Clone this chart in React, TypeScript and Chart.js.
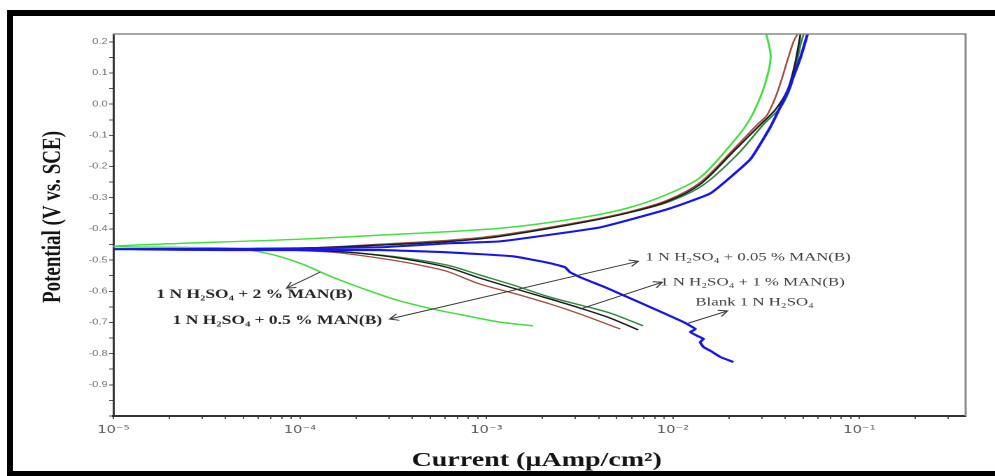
import React, { useEffect, useRef } from 'react';
import { Chart, registerables } from 'chart.js';

Chart.register(...registerables);

// ---------- axis ranges & tick labels ----------
const X_MIN = 1e-5;
const X_MAX = 0.371;
const Y_MIN = -1.0;
const Y_MAX = 0.225;

const xDecades = [1e-5, 1e-4, 1e-3, 1e-2, 1e-1];
const xDecadeLabels = ['10⁻⁵', '10⁻⁴', '10⁻³', '10⁻²', '10⁻¹'];
const xMinorMultipliers = [2, 3, 4, 5, 6, 7, 8, 9];

const yMajorTicks = [0.2, 0.1, 0.0, -0.1, -0.2, -0.3, -0.4, -0.5, -0.6, -0.7, -0.8, -0.9];
const yTickLabels = ['0.2', '0.1', '0.0', '-0.1', '-0.2', '-0.3', '-0.4', '-0.5', '-0.6', '-0.7', '-0.8', '-0.9'];
const yMinorTicks = [0.15, 0.05, -0.05, -0.15, -0.25, -0.35, -0.45, -0.55, -0.65, -0.75, -0.85, -0.95];

// ---------- series: current (µA/cm²) and potential (V vs SCE) ----------
// Blank 1 N H2SO4 (blue)
const blankI = [2.11e-2, 1.80e-2, 1.59e-2, 1.46e-2, 1.40e-2, 1.46e-2, 1.35e-2, 1.24e-2, 1.32e-2, 1.14e-2, 7.56e-3, 4.44e-3, 3.18e-3, 2.81e-3, 2.64e-3, 2.20e-3, 1.39e-3, 6.14e-4, 2.68e-4, 5.38e-5, 1.0e-5, 5.38e-5, 2.68e-4, 6.38e-4, 1.18e-3, 4.07e-3, 9.33e-3, 1.59e-2, 2.60e-2, 3.34e-2, 4.12e-2, 4.83e-2, 5.27e-2];
const blankE = [-0.827, -0.811, -0.791, -0.779, -0.763, -0.753, -0.743, -0.731, -0.721, -0.699, -0.651, -0.590, -0.555, -0.539, -0.523, -0.510, -0.488, -0.475, -0.468, -0.468, -0.465, -0.464, -0.459, -0.446, -0.440, -0.395, -0.337, -0.286, -0.177, -0.072, 0.040, 0.149, 0.225];

// 1 N H2SO4 + 0.05 % MAN(B) (black)
const man005I = [6.52e-3, 4.61e-3, 3.18e-3, 2.20e-3, 1.39e-3, 9.24e-4, 6.14e-4, 3.44e-4, 2.10e-4, 1.50e-4, 7.79e-5, 1.0e-5, 1.0e-4, 2.68e-4, 6.38e-4, 1.18e-3, 3.30e-3, 5.90e-3, 9.33e-3, 1.40e-2, 2.11e-2, 2.95e-2, 3.55e-2, 4.12e-2, 4.49e-2, 4.72e-2, 4.83e-2];
const man005E = [-0.724, -0.686, -0.654, -0.625, -0.590, -0.558, -0.523, -0.494, -0.478, -0.472, -0.468, -0.465, -0.462, -0.452, -0.440, -0.424, -0.379, -0.347, -0.312, -0.257, -0.152, -0.065, -0.017, 0.046, 0.123, 0.190, 0.225];

// 1 N H2SO4 + 0.5 % MAN(B) (brown)
const man05I = [5.22e-3, 3.18e-3, 2.20e-3, 1.39e-3, 9.24e-4, 6.14e-4, 4.40e-4, 3.44e-4, 2.29e-4, 1.50e-4, 7.79e-5, 1.0e-5, 1.0e-4, 2.68e-4, 6.38e-4, 1.18e-3, 3.30e-3, 5.90e-3, 9.33e-3, 1.40e-2, 2.11e-2, 2.84e-2, 3.21e-2, 3.64e-2, 4.12e-2, 4.43e-2, 4.66e-2];
const man05E = [-0.721, -0.673, -0.641, -0.606, -0.577, -0.536, -0.516, -0.504, -0.488, -0.475, -0.468, -0.465, -0.462, -0.449, -0.436, -0.420, -0.376, -0.344, -0.308, -0.251, -0.145, -0.065, -0.033, 0.040, 0.142, 0.200, 0.225];

// 1 N H2SO4 + 1 % MAN(B) (dark green)
const man1I = [6.93e-3, 4.61e-3, 3.18e-3, 2.20e-3, 1.39e-3, 9.24e-4, 6.14e-4, 3.44e-4, 2.10e-4, 1.50e-4, 7.79e-5, 1.0e-5, 1.0e-4, 2.68e-4, 6.38e-4, 1.18e-3, 3.30e-3, 5.90e-3, 9.33e-3, 1.44e-2, 2.22e-2, 3.06e-2, 3.77e-2, 4.27e-2, 4.60e-2, 4.83e-2, 5.02e-2];
const man1E = [-0.711, -0.670, -0.644, -0.619, -0.580, -0.548, -0.516, -0.491, -0.478, -0.472, -0.468, -0.465, -0.462, -0.452, -0.440, -0.424, -0.379, -0.347, -0.315, -0.261, -0.161, -0.065, -0.011, 0.053, 0.130, 0.190, 0.225];

// 1 N H2SO4 + 2 % MAN(B) (light green)
const man2I = [1.78e-3, 1.18e-3, 7.87e-4, 5.17e-4, 3.44e-4, 2.29e-4, 1.50e-4, 1.0e-4, 6.63e-5, 4.36e-5, 1.0e-5, 1.0e-4, 2.68e-4, 1.18e-3, 3.30e-3, 5.90e-3, 9.33e-3, 1.40e-2, 2.11e-2, 2.54e-2, 2.95e-2, 3.25e-2, 3.34e-2, 3.17e-2];
const man2E = [-0.711, -0.699, -0.679, -0.657, -0.631, -0.596, -0.555, -0.510, -0.478, -0.462, -0.456, -0.433, -0.420, -0.398, -0.363, -0.331, -0.289, -0.235, -0.120, -0.056, 0.024, 0.104, 0.158, 0.225];

// ---------- annotations (anchored in data units) ----------
const annotationTexts = [
  '1 N H₂SO₄ + 0.05 % MAN(B)',
  '1 N H₂SO₄ + 1 % MAN(B)',
  'Blank 1 N H₂SO₄',
  '1 N H₂SO₄ + 2 % MAN(B)',
  '1 N H₂SO₄ + 0.5 % MAN(B)',
];
const annotationCurrent = [7.11e-3, 8.55e-3, 1.32e-2, 1.70e-5, 2.08e-5];
const annotationPotential = [-0.491, -0.571, -0.635, -0.612, -0.695];
const annotationBold = [false, false, false, true, true];

const arrowFrom: [number, number][] = [[3.03e-4, -0.689], [3.18e-3, -0.657], [1.17e-2, -0.705], [1.28e-4, -0.539]];
const arrowTo: [number, number][] = [[6.52e-3, -0.504], [8.77e-3, -0.571], [1.96e-2, -0.663], [8.49e-5, -0.590]];
const arrowBoth = [true, false, false, false];

// ---------- layout ----------
const OUT_W = 995;
const CANVAS_W = 711;
const H = 476;
const STRETCH = OUT_W / CANVAS_W;

const xTickValues: number[] = [];
xDecades.forEach((d) => {
  xTickValues.push(d);
  xMinorMultipliers.forEach((m) => {
    if (m * d <= X_MAX) xTickValues.push(m * d);
  });
});
const yTickValues = [...yMajorTicks, ...yMinorTicks, Y_MIN].sort((a, b) => a - b);

const pts = (I: number[], E: number[]) => I.map((c, i) => ({ x: c, y: E[i] }));

function drawHead(ctx: CanvasRenderingContext2D, x1: number, y1: number, x2: number, y2: number) {
  const ang = Math.atan2(y2 - y1, x2 - x1);
  const len = 7;
  ctx.moveTo(x2 - len * Math.cos(ang - 0.5), y2 - len * Math.sin(ang - 0.5));
  ctx.lineTo(x2, y2);
  ctx.lineTo(x2 - len * Math.cos(ang + 0.5), y2 - len * Math.sin(ang + 0.5));
}

const overlayPlugin = {
  id: 'overlay',
  afterDraw(chart: any) {
    const { ctx, chartArea: a, scales } = chart;
    const xs = scales.x;
    const ys = scales.y;
    ctx.save();
    // top & right frame
    ctx.strokeStyle = '#8a8a8a';
    ctx.lineWidth = 1.5;
    ctx.beginPath();
    ctx.moveTo(a.left, a.top);
    ctx.lineTo(a.right, a.top);
    ctx.lineTo(a.right, a.bottom);
    ctx.stroke();

    // axis titles
    ctx.fillStyle = '#151515';
    ctx.textAlign = 'center';
    ctx.textBaseline = 'middle';
    ctx.font = 'bold 19px "Liberation Serif", "Times New Roman", serif';
    ctx.save();
    ctx.translate(38, 217);
    ctx.rotate(-Math.PI / 2);
    ctx.fillText('Potential (V vs. SCE)', 0, 0);
    ctx.restore();
    ctx.font = 'bold 20px "Liberation Serif", "Times New Roman", serif';
    ctx.fillText('Current (µAmp/cm²)', (a.left + a.right) / 2 - 2, 461);

    // annotation labels
    ctx.textAlign = 'left';
    annotationTexts.forEach((t, i) => {
      ctx.font = annotationBold[i]
        ? 'bold 12.5px "Liberation Serif", "Times New Roman", serif'
        : '12px "Liberation Serif", "Times New Roman", serif';
      ctx.fillStyle = annotationBold[i] ? '#262626' : '#404040';
      ctx.fillText(t, xs.getPixelForValue(annotationCurrent[i]), ys.getPixelForValue(annotationPotential[i]));
    });

    // arrows
    ctx.strokeStyle = '#3a3a3a';
    ctx.lineWidth = 1;
    arrowFrom.forEach((f, i) => {
      const x1 = xs.getPixelForValue(f[0]);
      const y1 = ys.getPixelForValue(f[1]);
      const x2 = xs.getPixelForValue(arrowTo[i][0]);
      const y2 = ys.getPixelForValue(arrowTo[i][1]);
      ctx.beginPath();
      ctx.moveTo(x1, y1);
      ctx.lineTo(x2, y2);
      drawHead(ctx, x1, y1, x2, y2);
      if (arrowBoth[i]) drawHead(ctx, x2, y2, x1, y1);
      ctx.stroke();
    });
    ctx.restore();
  },
};

export default function App() {
  const canvasRef = useRef<HTMLCanvasElement | null>(null);

  useEffect(() => {
    if (!canvasRef.current) return;
    const series = [
      { label: 'Blank 1 N H2SO4', I: blankI, E: blankE, color: '#1616e8', width: 2.1, tension: 0.12 },
      { label: '1 N H2SO4 + 0.05 % MAN(B)', I: man005I, E: man005E, color: '#1c1c1c', width: 1.4, tension: 0.3 },
      { label: '1 N H2SO4 + 1 % MAN(B)', I: man1I, E: man1E, color: '#2f8a40', width: 1.4, tension: 0.3 },
      { label: '1 N H2SO4 + 0.5 % MAN(B)', I: man05I, E: man05E, color: '#a34c3c', width: 1.3, tension: 0.3 },
      { label: '1 N H2SO4 + 2 % MAN(B)', I: man2I, E: man2E, color: '#40e040', width: 1.5, tension: 0.3 },
    ];
    const chart = new Chart(canvasRef.current, {
      type: 'scatter',
      data: {
        datasets: series.map((s) => ({
          label: s.label,
          data: pts(s.I, s.E),
          showLine: true,
          borderColor: s.color,
          backgroundColor: s.color,
          borderWidth: s.width,
          pointRadius: 0,
          tension: s.tension,
          fill: false,
        })),
      },
      options: {
        animation: false,
        responsive: true,
        maintainAspectRatio: false,
        devicePixelRatio: 2,
        events: [],
        layout: { padding: { top: 34, right: 21, left: 0, bottom: 0 } },
        plugins: { legend: { display: false }, tooltip: { enabled: false }, title: { display: false } },
        scales: {
          x: {
            type: 'logarithmic',
            min: X_MIN,
            max: X_MAX,
            afterBuildTicks: (s: any) => {
              s.ticks = xTickValues.map((v) => ({ value: v }));
            },
            afterFit: (s: any) => {
              s.height = 60;
            },
            ticks: {
              autoSkip: false,
              maxRotation: 0,
              minRotation: 0,
              padding: 5,
              color: '#5e5e5e',
              font: { family: '"DejaVu Sans", "Liberation Sans", sans-serif', size: 10.5 },
              callback: (v: any) => {
                const val = Number(v);
                const idx = xDecades.findIndex((d) => Math.abs(d - val) / d < 1e-6);
                return idx >= 0 ? xDecadeLabels[idx] : '';
              },
            },
            grid: { drawOnChartArea: false, drawTicks: true, tickLength: 3, color: '#555', lineWidth: 1 },
            border: { display: true, color: '#333', width: 2 },
          },
          y: {
            type: 'linear',
            min: Y_MIN,
            max: Y_MAX,
            afterBuildTicks: (s: any) => {
              s.ticks = yTickValues.map((v) => ({ value: v }));
            },
            afterFit: (s: any) => {
              s.width = 81;
            },
            ticks: {
              autoSkip: false,
              padding: 1,
              color: '#777',
              font: { family: '"Liberation Sans", Arial, sans-serif', size: 8 },
              callback: (v: any) => {
                const val = Number(v);
                const idx = yMajorTicks.findIndex((t) => Math.abs(t - val) < 1e-6);
                return idx >= 0 ? yTickLabels[idx] : '';
              },
            },
            grid: { drawOnChartArea: false, drawTicks: true, tickLength: 3, color: '#555', lineWidth: 1 },
            border: { display: true, color: '#333', width: 1.5 },
          },
        },
      },
      plugins: [overlayPlugin],
    } as any);
    return () => chart.destroy();
  }, []);

  return (
    <div style={{ position: 'absolute', left: 0, top: 0, width: OUT_W, height: H, background: '#fff', overflow: 'hidden' }}>
      <div
        style={{
          position: 'absolute',
          left: 0,
          top: 0,
          width: CANVAS_W,
          height: H,
          transform: `scaleX(${STRETCH})`,
          transformOrigin: '0 0',
        }}
      >
        <canvas ref={canvasRef} />
      </div>
      <div style={{ position: 'absolute', left: 7, top: 10, width: OUT_W - 7, height: 6, background: '#000' }} />
      <div style={{ position: 'absolute', left: 7, top: 10, width: 6, height: H - 10, background: '#000' }} />
      <div style={{ position: 'absolute', left: 7, top: 471, width: OUT_W - 7, height: 5, background: '#000' }} />
    </div>
  );
}
